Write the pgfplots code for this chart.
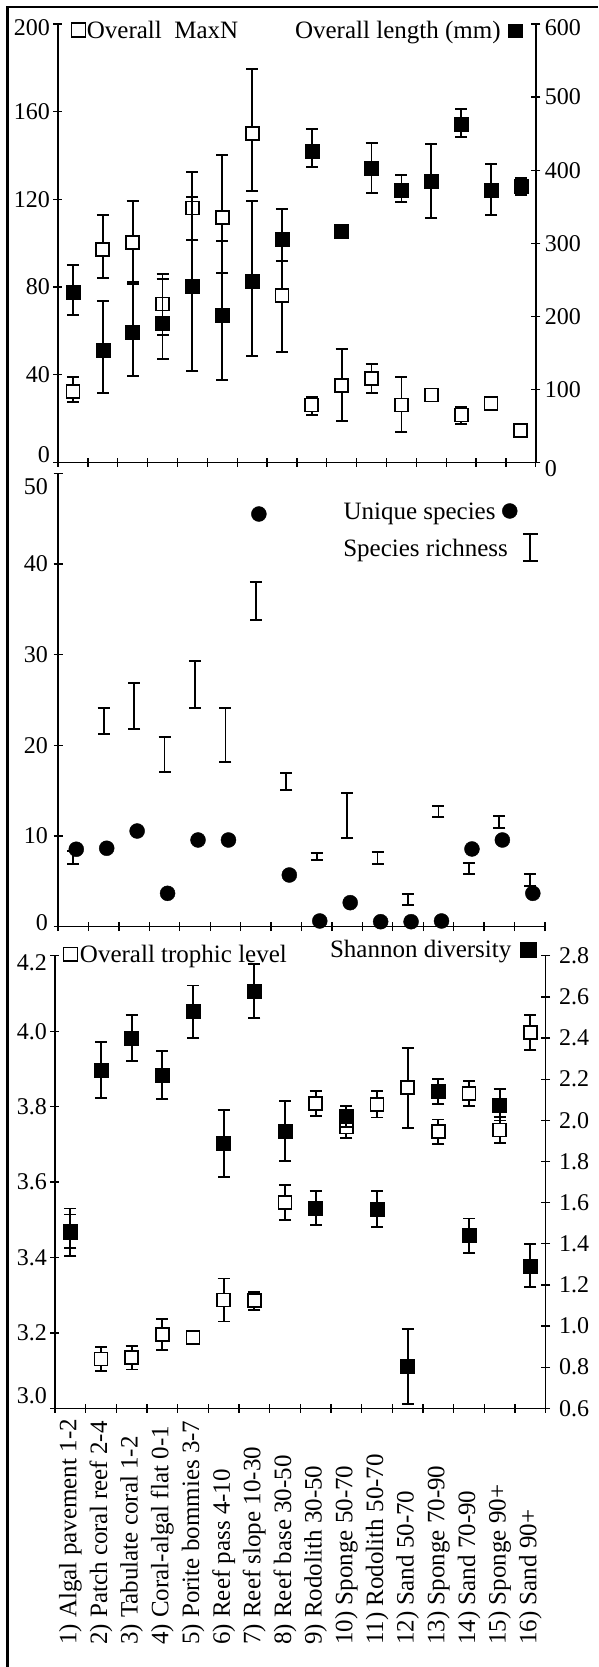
\documentclass[border=0pt]{standalone}
\usepackage{fontspec}
\setmainfont{Liberation Serif}
\usepackage{pgfplots}
\usepackage{pgfplotstable}
\pgfplotsset{compat=1.18}
\newcommand\fs{\fontsize{24}{28}\selectfont}
\newcommand\fl{\fontsize{25}{29}\selectfont}
\newcommand\fc{\fontsize{25}{29}\selectfont}
\newcommand\rb[2]{\smash{\raisebox{#1}{#2}}\vphantom{#2}}

\pgfplotstableread{
x y ep em
1 32.3 6.8 4.6
2 97.2 15.5 12.9
3 100.4 19.0 17.9
4 72.3 13.7 14
5 116.1 16.5 14.6
6 111.8 28.5 25.2
7 150.1 29.2 26.1
8 76.1 15.8 25.6
9 26.2 3.8 4.5
10 35.0 16.8 15.9
11 38.4 6.5 6.8
12 26.2 12.9 12.4
13 30.8 0 0
14 21.7 3.5 4.1
15 27.0 0 0
16 14.5 0 0
}\maxn

\pgfplotstableread{
x y ep em
1 232.3 37.9 30.5
2 153.0 68 58.3
3 178.2 66 60
4 190.5 60.2 48.9
5 240.5 123.2 114.9
6 201.8 101.3 88.9
7 248.4 109.8 102.7
8 305.8 41.1 30.1
9 426.2 30.1 21.4
10 316.8 0 0
11 402.6 35 33.4
12 372.9 20.5 16
13 384.2 51.2 50.1
14 463.2 20.1 17.4
15 371.9 36.5 33.2
16 377.4 11.5 11.4
}\lengthdata

\pgfplotstableread{
x y e
1 7.61 0.73
2 22.67 1.42
3 24.3 2.54
4 19.02 1.93
5 26.73 2.58
6 21.14 2.94
7 35.93 2.11
8 16.0 0.92
9 7.76 0.4
10 12.26 2.45
11 7.59 0.68
12 3.0 0.6
13 12.74 0.6
14 6.39 0.6
15 11.53 0.68
16 5.13 0.65
}\richness

\pgfplotstableread{
x y
1.1 8.54
2.1 8.65
3.1 10.55
4.1 3.68
5.1 9.56
6.1 9.56
7.1 45.51
8.1 5.70
9.1 0.63
10.1 2.65
11.1 0.55
12.1 0.55
13.1 0.63
14.1 8.57
15.1 9.56
16.1 3.68
}\unique

\pgfplotstableread{
x y e
1 3.470 0.044
2 3.131 0.032
3 3.134 0.031
4 3.196 0.041
5 3.187 0.015
6 3.287 0.057
7 3.285 0.024
8 3.546 0.047
9 3.809 0.033
10 3.746 0.030
11 3.806 0.035
12 3.850 0.106
13 3.733 0.033
14 3.835 0.034
15 3.738 0.035
16 3.996 0.046
}\trophic

\pgfplotstableread{
x y e
1 1.456 0.115
2 2.245 0.135
3 2.399 0.112
4 2.220 0.116
5 2.528 0.128
6 1.888 0.162
7 2.629 0.131
8 1.948 0.146
9 1.575 0.083
10 2.018 0.050
11 1.569 0.089
12 0.802 0.182
13 2.139 0.061
14 1.439 0.084
15 2.075 0.076
16 1.293 0.105
}\shannon

\pgfplotsset{
  base/.style={
    scale only axis, xmin=0.5, xmax=16.5,
    clip=false,
    axis line style={line width=1.5pt, black},
    tick style={line width=1.3pt, black},
    tick align=center, major tick length=9pt,
    tick label style={font=\fs},
    legend style={font=\fl, draw=none, fill=none, inner sep=0pt, outer sep=0pt,
      nodes={inner sep=0pt}},
  },
  ebar/.style={error bars/.cd, y dir=both, y explicit, error mark=-,
    error bar style={draw=black, line width=1.8pt},
    error mark options={rotate=90, mark size=6pt, line width=1.8pt, draw=black}},
  opensq/.style={only marks, mark=square*, mark size=6.5pt,
    mark options={fill=white, draw=black, line width=1.8pt}},
  fullsq/.style={only marks, mark=square*, mark size=7pt,
    mark options={fill=black, draw=black, line width=0.5pt}},
}

\begin{document}
\begin{tikzpicture}[x=1pt,y=1pt]
\path[use as bounding box] (0,0) rectangle (598,1667);
\draw[line width=2.2pt] (7.5,0) -- (7.5,1659.7) -- (598,1659.7);

% ---------------- Panel 1 ----------------
\begin{axis}[base, at={(58pt,1204.5pt)}, anchor=south west,
  width=477.8pt, height=438.5pt,
  ymin=0, ymax=200, ytick={0,40,80,120,160,200},
  yticklabels={\rb{8pt}{0},40,80,120,160,\rb{-4pt}{200}},
  axis x line*=bottom, axis y line*=left,
  xtick={0.5,1.5,...,16.5}, xticklabels={},
  legend style={at={(axis description cs:0.0266,0.9856)}, anchor=west,
    nodes={inner xsep=1pt}},
  legend plot pos=left,
  legend image code/.code={\begin{scope}[yshift=-6.7pt]
    \draw[line width=1.2pt] (0pt,0pt) rectangle (14pt,14pt);\end{scope}},
]
\addplot[opensq, ebar] table[x=x, y=y, y error plus=ep, y error minus=em]{\maxn};
\addlegendentry{Overall~~MaxN}
\end{axis}

\begin{axis}[base, at={(58pt,1204.5pt)}, anchor=south west,
  width=477.8pt, height=438.5pt,
  ymin=0, ymax=600, ytick={0,100,...,600},
  yticklabels={\rb{-6pt}{0},100,200,300,400,500,\rb{-4pt}{600}},
  axis x line=none, axis y line*=right,
  yticklabel style={xshift=1pt},
  legend style={at={(axis description cs:0.9711,0.985)}, anchor=east,
    nodes={inner xsep=7pt}},
  legend plot pos=right,
  legend image code/.code={\begin{scope}[yshift=-6.8pt]
    \fill (0pt,0pt) rectangle (14pt,13pt);\end{scope}},
]
\addplot[fullsq, ebar] table[x=x, y=y, y error plus=ep, y error minus=em]{\lengthdata};
\addlegendentry{Overall length (mm)}
\end{axis}

% ---------------- Panel 2 ----------------
\begin{axis}[base, at={(58pt,740.3pt)}, anchor=south west,
  width=487pt, height=453.4pt,
  ymin=0, ymax=50, ytick={0,10,20,30,40,50},
  yticklabels={\rb{4pt}{0},10,20,30,40,\rb{-13pt}{50}},
  yticklabel style={xshift=-2pt},
  axis x line*=bottom, axis y line*=left,
  xtick={0.5,1.5,...,16.5}, xticklabels={},
  legend style={at={(axis description cs:0.987,0.8363)}, anchor=east,
    nodes={inner xsep=14pt}},
  legend plot pos=right,
  legend image code/.code={\begin{scope}[yshift=-6.7pt]
    \draw[line width=1.8pt] (7.5pt,-6pt) -- (7.5pt,21pt);
    \draw[line width=1.8pt] (0pt,-6pt) -- (15pt,-6pt);
    \draw[line width=1.8pt] (0pt,21pt) -- (15pt,21pt);\end{scope}},
]
\addplot[draw=none, mark=none, ebar] table[x=x, y=y, y error=e]{\richness};
\addlegendentry{Species richness}
\end{axis}

\begin{axis}[base, at={(58pt,740.3pt)}, anchor=south west,
  width=487pt, height=453.4pt,
  ymin=0, ymax=50, axis lines=none,
  legend style={at={(axis description cs:0.9435,0.914)}, anchor=east,
    nodes={inner xsep=6.5pt}},
  legend plot pos=right,
  legend image code/.code={\begin{scope}[yshift=-6.7pt]
    \fill (7.5pt,8pt) circle (7.5pt);\end{scope}},
]
\addplot[only marks, mark=*, mark size=7.5pt, mark options={fill=black, draw=black}]
  table[x=x, y=y]{\unique};
\addlegendentry{Unique species}
\end{axis}

% ---------------- Panel 3 ----------------
\begin{axis}[base, at={(55pt,258.7pt)}, anchor=south west,
  width=490.7pt, height=452.5pt,
  ymin=3.0, ymax=4.2, ytick={3.0,3.2,3.4,3.6,3.8,4.0,4.2},
  yticklabels={\rb{13pt}{3.0},3.2,3.4,3.6,3.8,4.0,\rb{-7pt}{4.2}},
  axis x line*=bottom, axis y line*=left,
  xtick={0.5,1.5,...,16.5}, xticklabels={},
  extra x ticks={1,2,3,4,5,6,7,8,9,10,11,12,13,14,15,16},
  extra x tick labels={1) Algal pavement 1-2,2) Patch coral reef 2-4,3) Tabulate coral 1-2,4) Coral-algal flat 0-1,5) Porite bommies 3-7,6) Reef pass 4-10,7) Reef slope 10-30,8) Reef base 30-50,9) Rodolith 30-50,10) Sponge 50-70,11) Rodolith 50-70,12) Sand 50-70,13) Sponge 70-90,14) Sand 70-90,15) Sponge 90+,16) Sand 90+},
  extra x tick style={major tick length=0pt,
    xticklabel style={font=\fc, yshift=-236.7pt, rotate=90, anchor=west, inner sep=0pt}},
  legend style={at={(axis description cs:0.0169,1.0033)}, anchor=west,
    nodes={inner xsep=1.5pt}},
  legend plot pos=left,
  legend image code/.code={\begin{scope}[yshift=-6.7pt]
    \draw[line width=1.2pt] (0pt,0pt) rectangle (14pt,13.5pt);\end{scope}},
]
\addplot[opensq, ebar] table[x=x, y=y, y error=e]{\trophic};
\addlegendentry{Overall trophic level}
\end{axis}

\begin{axis}[base, at={(55pt,258.7pt)}, anchor=south west,
  width=490.7pt, height=452.5pt,
  ymin=0.6, ymax=2.8, ytick={0.6,0.8,1.0,1.2,1.4,1.6,1.8,2.0,2.2,2.4,2.6,2.8},
  yticklabels={0.6,0.8,1.0,1.2,1.4,1.6,1.8,2.0,2.2,2.4,2.6,2.8},
  axis x line=none, axis y line*=right,
  yticklabel style={xshift=5.5pt},
  legend style={at={(axis description cs:0.9817,1.0128)}, anchor=east,
    nodes={inner xsep=9pt}},
  legend plot pos=right,
  legend image code/.code={\begin{scope}[yshift=-6.7pt]
    \fill (0pt,0pt) rectangle (16pt,14.5pt);\end{scope}},
]
\addplot[fullsq, ebar] table[x=x, y=y, y error=e]{\shannon};
\addlegendentry{Shannon diversity}
\end{axis}
\end{tikzpicture}
\end{document}
